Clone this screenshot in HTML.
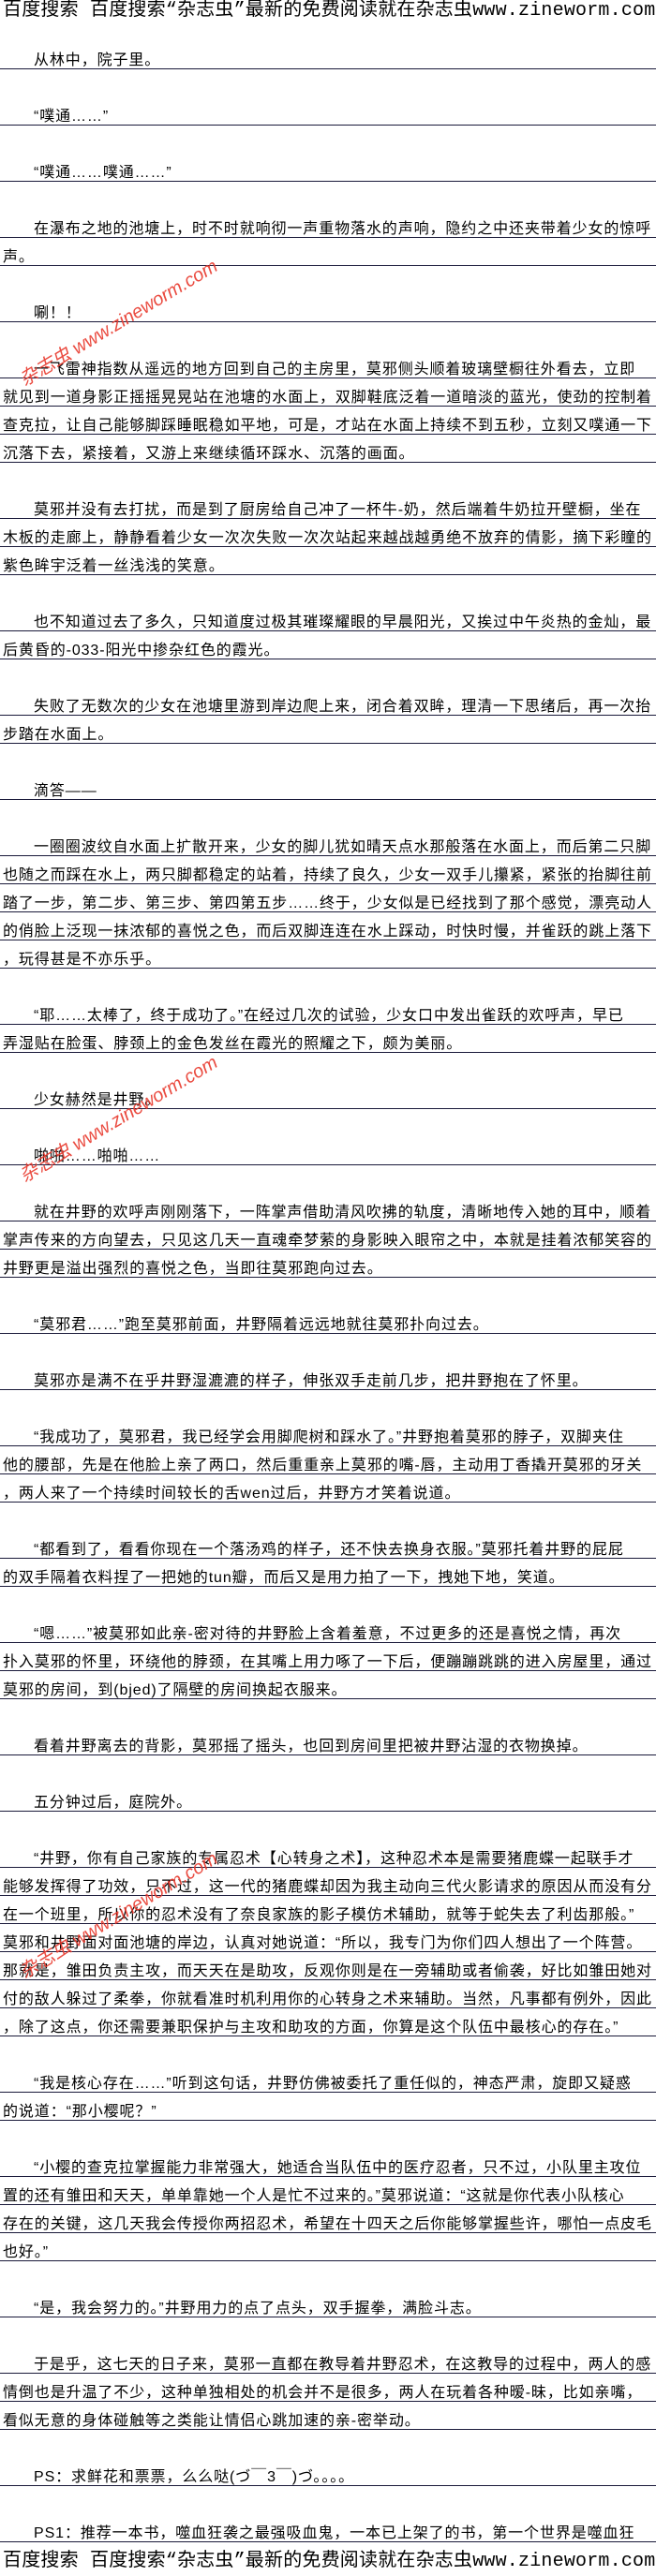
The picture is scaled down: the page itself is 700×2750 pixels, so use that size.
<!DOCTYPE html>
<html><head><meta charset="utf-8">
<style>
html,body{margin:0;padding:0;background:#fff;}
body{width:700px;height:2750px;position:relative;overflow:hidden;font-family:"Liberation Sans","Noto Sans CJK SC",sans-serif;color:#000;}
.hdr{position:absolute;left:3px;width:700px;font-family:"Liberation Mono","Noto Sans CJK SC",monospace;font-size:20px;line-height:22px;white-space:nowrap;letter-spacing:0.2px;}
#lines{position:absolute;left:0;top:44px;width:700px;}
.l{height:16px;padding-top:13px;line-height:16px;font-size:16px;letter-spacing:0.9px;white-space:nowrap;padding-left:3px;border-bottom:1px solid #1a1a3a;overflow:hidden;}
.b{height:30px;}
.i{text-indent:33px;}
.wm{position:absolute;left:28px;color:#e8382c;font-family:"Liberation Sans","Noto Sans CJK SC",sans-serif;font-size:20px;line-height:20px;white-space:nowrap;transform-origin:0 100%;transform:rotate(-31deg);font-style:italic;opacity:.9;}
</style></head><body>
<div class="hdr" style="top:1px">百度搜索 百度搜索“杂志虫”最新的免费阅读就在杂志虫www.zineworm.com</div>
<div id="lines">
<div class="l i">从林中，院子里。</div>
<div class="b"></div>
<div class="l i">“噗通……”</div>
<div class="b"></div>
<div class="l i">“噗通……噗通……”</div>
<div class="b"></div>
<div class="l i">在瀑布之地的池塘上，时不时就响彻一声重物落水的声响，隐约之中还夹带着少女的惊呼</div>
<div class="l">声。</div>
<div class="b"></div>
<div class="l i">唰！！</div>
<div class="b"></div>
<div class="l i">一飞雷神指数从遥远的地方回到自己的主房里，莫邪侧头顺着玻璃壁橱往外看去，立即</div>
<div class="l">就见到一道身影正摇摇晃晃站在池塘的水面上，双脚鞋底泛着一道暗淡的蓝光，使劲的控制着</div>
<div class="l">查克拉，让自己能够脚踩睡眠稳如平地，可是，才站在水面上持续不到五秒，立刻又噗通一下</div>
<div class="l">沉落下去，紧接着，又游上来继续循环踩水、沉落的画面。</div>
<div class="b"></div>
<div class="l i">莫邪并没有去打扰，而是到了厨房给自己冲了一杯牛-奶，然后端着牛奶拉开壁橱，坐在</div>
<div class="l">木板的走廊上，静静看着少女一次次失败一次次站起来越战越勇绝不放弃的倩影，摘下彩瞳的</div>
<div class="l">紫色眸宇泛着一丝浅浅的笑意。</div>
<div class="b"></div>
<div class="l i">也不知道过去了多久，只知道度过极其璀璨耀眼的早晨阳光，又挨过中午炎热的金灿，最</div>
<div class="l">后黄昏的-033-阳光中掺杂红色的霞光。</div>
<div class="b"></div>
<div class="l i">失败了无数次的少女在池塘里游到岸边爬上来，闭合着双眸，理清一下思绪后，再一次抬</div>
<div class="l">步踏在水面上。</div>
<div class="b"></div>
<div class="l i">滴答——</div>
<div class="b"></div>
<div class="l i">一圈圈波纹自水面上扩散开来，少女的脚儿犹如晴天点水那般落在水面上，而后第二只脚</div>
<div class="l">也随之而踩在水上，两只脚都稳定的站着，持续了良久，少女一双手儿攥紧，紧张的抬脚往前</div>
<div class="l">踏了一步，第二步、第三步、第四第五步……终于，少女似是已经找到了那个感觉，漂亮动人</div>
<div class="l">的俏脸上泛现一抹浓郁的喜悦之色，而后双脚连连在水上踩动，时快时慢，并雀跃的跳上落下</div>
<div class="l">，玩得甚是不亦乐乎。</div>
<div class="b"></div>
<div class="l i">“耶……太棒了，终于成功了。”在经过几次的试验，少女口中发出雀跃的欢呼声，早已</div>
<div class="l">弄湿贴在脸蛋、脖颈上的金色发丝在霞光的照耀之下，颇为美丽。</div>
<div class="b"></div>
<div class="l i">少女赫然是井野。</div>
<div class="b"></div>
<div class="l i">啪啪……啪啪……</div>
<div class="b"></div>
<div class="l i">就在井野的欢呼声刚刚落下，一阵掌声借助清风吹拂的轨度，清晰地传入她的耳中，顺着</div>
<div class="l">掌声传来的方向望去，只见这几天一直魂牵梦萦的身影映入眼帘之中，本就是挂着浓郁笑容的</div>
<div class="l">井野更是溢出强烈的喜悦之色，当即往莫邪跑向过去。</div>
<div class="b"></div>
<div class="l i">“莫邪君……”跑至莫邪前面，井野隔着远远地就往莫邪扑向过去。</div>
<div class="b"></div>
<div class="l i">莫邪亦是满不在乎井野湿漉漉的样子，伸张双手走前几步，把井野抱在了怀里。</div>
<div class="b"></div>
<div class="l i">“我成功了，莫邪君，我已经学会用脚爬树和踩水了。”井野抱着莫邪的脖子，双脚夹住</div>
<div class="l">他的腰部，先是在他脸上亲了两口，然后重重亲上莫邪的嘴-唇，主动用丁香撬开莫邪的牙关</div>
<div class="l">，两人来了一个持续时间较长的舌wen过后，井野方才笑着说道。</div>
<div class="b"></div>
<div class="l i">“都看到了，看看你现在一个落汤鸡的样子，还不快去换身衣服。”莫邪托着井野的屁屁</div>
<div class="l">的双手隔着衣料捏了一把她的tun瓣，而后又是用力拍了一下，拽她下地，笑道。</div>
<div class="b"></div>
<div class="l i">“嗯……”被莫邪如此亲-密对待的井野脸上含着羞意，不过更多的还是喜悦之情，再次</div>
<div class="l">扑入莫邪的怀里，环绕他的脖颈，在其嘴上用力啄了一下后，便蹦蹦跳跳的进入房屋里，通过</div>
<div class="l">莫邪的房间，到(bjed)了隔壁的房间换起衣服来。</div>
<div class="b"></div>
<div class="l i">看着井野离去的背影，莫邪摇了摇头，也回到房间里把被井野沾湿的衣物换掉。</div>
<div class="b"></div>
<div class="l i">五分钟过后，庭院外。</div>
<div class="b"></div>
<div class="l i">“井野，你有自己家族的专属忍术【心转身之术】，这种忍术本是需要猪鹿蝶一起联手才</div>
<div class="l">能够发挥得了功效，只不过，这一代的猪鹿蝶却因为我主动向三代火影请求的原因从而没有分</div>
<div class="l">在一个班里，所以你的忍术没有了奈良家族的影子模仿术辅助，就等于蛇失去了利齿那般。”</div>
<div class="l">莫邪和井野面对面池塘的岸边，认真对她说道：“所以，我专门为你们四人想出了一个阵营。</div>
<div class="l">那就是，雏田负责主攻，而天天在是助攻，反观你则是在一旁辅助或者偷袭，好比如雏田她对</div>
<div class="l">付的敌人躲过了柔拳，你就看准时机利用你的心转身之术来辅助。当然，凡事都有例外，因此</div>
<div class="l">，除了这点，你还需要兼职保护与主攻和助攻的方面，你算是这个队伍中最核心的存在。”</div>
<div class="b"></div>
<div class="l i">“我是核心存在……”听到这句话，井野仿佛被委托了重任似的，神态严肃，旋即又疑惑</div>
<div class="l">的说道：“那小樱呢？”</div>
<div class="b"></div>
<div class="l i">“小樱的查克拉掌握能力非常强大，她适合当队伍中的医疗忍者，只不过，小队里主攻位</div>
<div class="l">置的还有雏田和天天，单单靠她一个人是忙不过来的。”莫邪说道：“这就是你代表小队核心</div>
<div class="l">存在的关键，这几天我会传授你两招忍术，希望在十四天之后你能够掌握些许，哪怕一点皮毛</div>
<div class="l">也好。”</div>
<div class="b"></div>
<div class="l i">“是，我会努力的。”井野用力的点了点头，双手握拳，满脸斗志。</div>
<div class="b"></div>
<div class="l i">于是乎，这七天的日子来，莫邪一直都在教导着井野忍术，在这教导的过程中，两人的感</div>
<div class="l">情倒也是升温了不少，这种单独相处的机会并不是很多，两人在玩着各种暧-昧，比如亲嘴，</div>
<div class="l">看似无意的身体碰触等之类能让情侣心跳加速的亲-密举动。</div>
<div class="b"></div>
<div class="l i">PS：求鲜花和票票，么么哒(づ￣3￣)づ。。。。</div>
<div class="b"></div>
<div class="l i">PS1：推荐一本书，噬血狂袭之最强吸血鬼，一本已上架了的书，第一个世界是噬血狂</div>
</div>
<div class="hdr" style="top:2724px">百度搜索 百度搜索“杂志虫”最新的免费阅读就在杂志虫www.zineworm.com</div>
<div class="wm" style="top:396px">杂志虫 www.zineworm.com</div>
<div class="wm" style="top:1246px">杂志虫 www.zineworm.com</div>
<div class="wm" style="top:2096px">杂志虫 www.zineworm.com</div>
</body></html>
